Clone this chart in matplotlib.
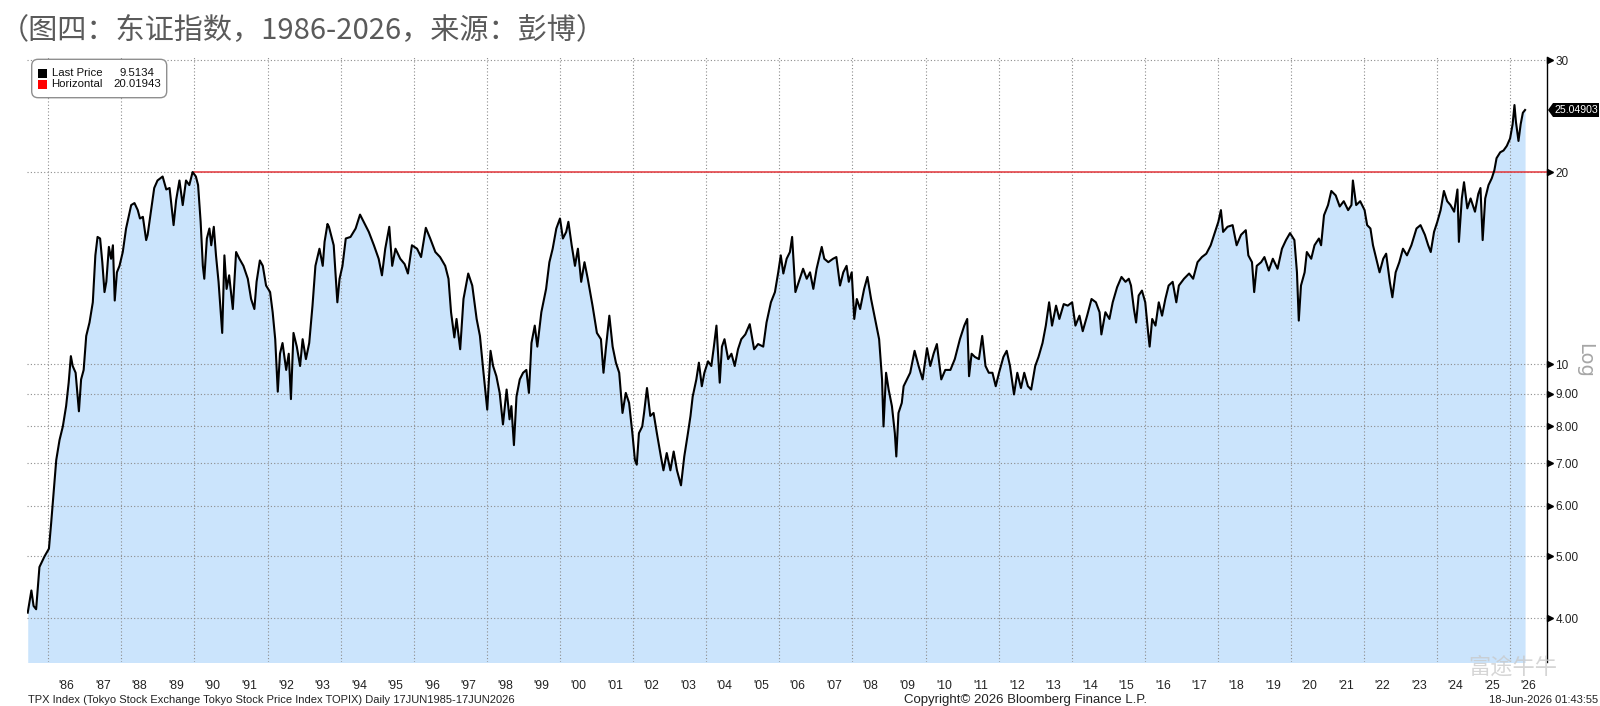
import matplotlib
matplotlib.use("Agg")
import matplotlib.pyplot as plt
import matplotlib.patches as mpatches
import matplotlib.transforms as transforms
from matplotlib.ticker import FixedLocator, FixedFormatter, NullLocator

# decimal years and TOPIX level
dates = [
    1985.44, 1985.54, 1985.60, 1985.67, 1985.76, 1985.90, 1986.02, 1986.08, 1986.13, 1986.22,
    1986.31, 1986.40, 1986.49, 1986.56, 1986.62, 1986.67, 1986.75, 1986.84, 1986.90, 1986.97,
    1987.04, 1987.13, 1987.22, 1987.29, 1987.35, 1987.42, 1987.48, 1987.54, 1987.59, 1987.66,
    1987.72, 1987.77, 1987.82, 1987.88, 1987.95, 1988.04, 1988.13, 1988.27, 1988.36, 1988.45,
    1988.51, 1988.59, 1988.68, 1988.72, 1988.81, 1988.90, 1988.99, 1989.13, 1989.23, 1989.32,
    1989.43, 1989.50, 1989.59, 1989.68, 1989.77, 1989.86, 1989.95, 1990.04, 1990.10, 1990.17,
    1990.23, 1990.27, 1990.34, 1990.41, 1990.46, 1990.53, 1990.59, 1990.66, 1990.76, 1990.82,
    1990.88, 1990.95, 1991.05, 1991.14, 1991.23, 1991.34, 1991.46, 1991.55, 1991.64, 1991.70,
    1991.79, 1991.87, 1991.96, 1992.07, 1992.14, 1992.21, 1992.28, 1992.34, 1992.41, 1992.51,
    1992.58, 1992.64, 1992.71, 1992.80, 1992.89, 1992.96, 1993.05, 1993.14, 1993.23, 1993.31,
    1993.42, 1993.51, 1993.56, 1993.64,
    1993.68, 1993.81, 1993.91, 1993.97, 1994.05, 1994.14, 1994.27, 1994.41, 1994.53, 1994.63,
    1994.77, 1994.91, 1995.04, 1995.13, 1995.22, 1995.33, 1995.41, 1995.50, 1995.63, 1995.75,
    1995.84, 1995.95, 1996.09, 1996.20, 1996.33, 1996.45, 1996.59, 1996.72, 1996.86, 1996.95,
    1997.02, 1997.11, 1997.17, 1997.27, 1997.36, 1997.49, 1997.60, 1997.72, 1997.81, 1997.90,
    1998.01, 1998.10, 1998.17, 1998.26, 1998.35, 1998.44, 1998.54, 1998.62, 1998.67, 1998.74,
    1998.81, 1998.90, 1998.99, 1999.08, 1999.15, 1999.22, 1999.31, 1999.38, 1999.49, 1999.62,
    1999.71, 1999.80, 1999.90, 2000.00, 2000.08, 2000.17, 2000.23, 2000.32, 2000.41, 2000.49,
    2000.58, 2000.67, 2000.76, 2000.89, 2001.01, 2001.12, 2001.19, 2001.26, 2001.35, 2001.44,
    2001.53, 2001.62, 2001.71, 2001.80, 2001.89, 2001.98, 2002.05, 2002.10, 2002.16, 2002.25,
    2002.30,
    2002.38, 2002.47, 2002.56, 2002.65, 2002.76, 2002.83, 2002.92, 2003.02, 2003.11, 2003.20,
    2003.31, 2003.40, 2003.50, 2003.57, 2003.63, 2003.73, 2003.80, 2003.88, 2003.95, 2004.05,
    2004.14, 2004.21, 2004.28, 2004.37, 2004.43, 2004.50, 2004.60, 2004.69, 2004.78, 2004.87,
    2004.96, 2005.07, 2005.19, 2005.31, 2005.42, 2005.56, 2005.65, 2005.77, 2005.88, 2005.97,
    2006.04, 2006.11, 2006.20, 2006.29, 2006.35, 2006.44, 2006.56, 2006.65, 2006.75, 2006.84,
    2006.93, 2007.02, 2007.16, 2007.23, 2007.34, 2007.47, 2007.56, 2007.66, 2007.75, 2007.84,
    2007.90, 2007.98, 2008.05, 2008.12, 2008.21, 2008.32, 2008.41, 2008.51, 2008.62, 2008.73,
    2008.81, 2008.85, 2008.92, 2008.99, 2009.08, 2009.16, 2009.20, 2009.26, 2009.35, 2009.40,
    2009.49, 2009.58, 2009.70, 2009.81, 2009.92, 2010.04, 2010.13, 2010.22, 2010.31, 2010.43,
    2010.54, 2010.68, 2010.80,
    2010.94, 2011.06, 2011.14, 2011.19, 2011.26, 2011.35, 2011.46, 2011.55, 2011.64, 2011.73,
    2011.83, 2011.92, 2012.01, 2012.13, 2012.22, 2012.31, 2012.42, 2012.51, 2012.61, 2012.70,
    2012.80, 2012.89, 2013.00, 2013.09, 2013.20, 2013.29, 2013.38, 2013.46, 2013.57, 2013.66,
    2013.78, 2013.89, 2014.01, 2014.10, 2014.21, 2014.30, 2014.42, 2014.54, 2014.66, 2014.76,
    2014.81, 2014.92, 2015.03, 2015.12, 2015.24, 2015.36, 2015.47, 2015.56, 2015.62, 2015.70,
    2015.76, 2015.83, 2015.92, 2016.01, 2016.09, 2016.13, 2016.20, 2016.29, 2016.38, 2016.47,
    2016.56, 2016.65, 2016.76, 2016.86, 2016.93, 2017.07, 2017.21, 2017.32, 2017.44, 2017.56,
    2017.68, 2017.80, 2017.92, 2018.01, 2018.08, 2018.14, 2018.26, 2018.40, 2018.51, 2018.63,
    2018.76, 2018.83, 2018.93, 2018.99, 2019.06, 2019.18, 2019.27,
    2019.39, 2019.50, 2019.63, 2019.75, 2019.86, 2019.97, 2020.09, 2020.16, 2020.21, 2020.27,
    2020.37, 2020.43, 2020.55, 2020.64, 2020.76, 2020.82, 2020.90, 2021.01, 2021.10, 2021.22,
    2021.33, 2021.44, 2021.56, 2021.65, 2021.69, 2021.78, 2021.89, 2022.01, 2022.08, 2022.17,
    2022.24, 2022.33, 2022.42, 2022.52, 2022.60, 2022.70, 2022.77, 2022.86, 2022.96, 2023.06,
    2023.17, 2023.29, 2023.43, 2023.54, 2023.66, 2023.75, 2023.82, 2023.91, 2024.00, 2024.09,
    2024.18, 2024.27, 2024.36, 2024.46, 2024.55, 2024.59, 2024.67, 2024.73, 2024.82, 2024.91,
    2025.03, 2025.12, 2025.18, 2025.24, 2025.31, 2025.40, 2025.49, 2025.56, 2025.62, 2025.72,
    2025.81, 2025.90, 2025.99, 2026.06, 2026.11, 2026.15, 2026.22, 2026.28, 2026.34, 2026.40,
]
tpx = [
    4.08, 4.42, 4.18, 4.13, 4.81, 5.00, 5.14, 5.63, 6.12, 7.08,
    7.61, 7.99, 8.60, 9.36, 10.30, 9.94, 9.70, 8.44, 9.47, 9.80,
    11.08, 11.63, 12.51, 14.82, 15.84, 15.75, 14.46, 12.98, 13.47, 15.28,
    14.64, 15.37, 12.59, 13.94, 14.27, 15.00, 16.33, 17.77, 17.90, 17.45,
    16.93, 17.03, 15.66, 15.96, 17.35, 18.90, 19.42, 19.70, 18.80, 18.90,
    16.53, 18.10, 19.42, 17.77, 19.42, 19.10, 20.02, 19.70, 19.10, 16.73,
    14.27, 13.62, 15.75, 16.33, 15.37, 16.43, 14.82, 13.47, 11.20, 14.82,
    13.13, 13.79, 12.21, 15.00, 14.64, 14.27, 13.62, 12.66, 12.21, 13.47,
    14.55, 14.27, 13.29, 12.98, 12.07, 10.95, 9.06, 10.39, 10.80, 9.80,
    10.39, 8.82, 11.20, 10.66, 9.94, 10.95, 10.19, 10.80, 12.36, 14.27,
    15.18, 14.27, 15.56, 16.60,
    16.43, 15.37, 12.51, 13.62, 14.27, 15.75, 15.84, 16.33, 17.17, 16.73,
    16.13, 15.37, 14.64, 13.79, 15.18, 16.43, 14.27, 15.18, 14.64, 14.36,
    13.88, 15.37, 15.18, 14.73, 16.37, 15.75, 15.00, 14.73, 14.27, 13.62,
    12.07, 11.02, 11.78, 10.56, 12.66, 13.88, 13.29, 11.78, 11.08, 9.80,
    8.49, 10.50, 9.94, 9.58, 9.02, 8.05, 9.13, 8.20, 8.60, 7.47,
    8.90, 9.47, 9.70, 9.80, 9.02, 10.80, 11.50, 10.66, 12.07, 13.13,
    14.46, 15.18, 16.33, 16.93, 15.75, 16.13, 16.73, 15.37, 14.27, 15.18,
    13.47, 14.46, 13.62, 12.36, 11.20, 10.95, 9.70, 10.66, 11.92, 10.66,
    10.06, 9.70, 8.39, 9.02, 8.70, 7.80, 7.08, 6.96, 7.80, 7.99,
    8.39,
    9.18, 8.30, 8.39, 7.80, 7.17, 6.82, 7.26, 6.82, 7.30, 6.82,
    6.46, 7.17, 7.80, 8.30, 8.90, 9.47, 10.06, 9.24, 9.70, 10.11,
    9.94, 10.66, 11.50, 9.36, 10.66, 10.95, 10.19, 10.39, 9.94, 10.56,
    10.95, 11.14, 11.56, 10.56, 10.76, 10.66, 11.63, 12.51, 12.98, 13.94,
    14.82, 13.88, 14.64, 15.00, 15.84, 12.98, 13.62, 14.12, 13.62, 13.94,
    13.13, 14.12, 15.28, 14.64, 14.46, 14.64, 14.73, 13.29, 13.94, 14.27,
    13.47, 13.94, 11.78, 12.66, 12.21, 13.13, 13.71, 12.66, 11.78, 10.95,
    9.47, 7.99, 9.70, 9.13, 8.60, 7.80, 7.17, 8.39, 8.70, 9.24,
    9.47, 9.70, 10.50, 9.94, 9.47, 10.60, 9.94, 10.39, 10.76, 9.47,
    9.80, 9.80, 10.19,
    10.95, 11.50, 11.78, 9.58, 10.39, 10.27, 10.19, 11.08, 9.94, 9.70,
    9.70, 9.24, 9.70, 10.27, 10.50, 9.94, 8.97, 9.70, 9.18, 9.70,
    9.24, 9.13, 9.94, 10.27, 10.80, 11.50, 12.51, 11.50, 12.36, 11.78,
    12.43, 12.36, 12.51, 11.50, 11.92, 11.27, 11.92, 12.66, 12.51, 12.07,
    11.14, 12.07, 11.78, 12.51, 13.21, 13.71, 13.47, 13.62, 13.29, 12.21,
    11.63, 12.82, 13.05, 12.51, 11.20, 10.66, 11.78, 11.50, 12.51, 11.92,
    12.66, 13.29, 13.47, 12.51, 13.29, 13.62, 13.88, 13.62, 14.46, 14.73,
    14.91, 15.37, 16.13, 16.73, 17.45, 16.13, 16.43, 16.53, 15.37, 15.96,
    16.23, 14.82, 14.46, 12.98, 14.27, 14.46, 14.73,
    14.03, 14.64, 14.12, 15.18, 15.66, 16.06, 15.66, 13.94, 11.71, 13.29,
    13.94, 15.00, 14.64, 15.37, 15.75, 15.37, 17.13, 17.77, 18.70, 18.40,
    17.68, 18.02, 17.45, 17.77, 19.42, 17.77, 18.02, 17.45, 16.53, 16.33,
    15.37, 14.64, 13.94, 14.64, 14.91, 13.47, 12.74, 13.94, 14.46, 15.18,
    14.82, 15.37, 16.33, 16.53, 15.96, 15.37, 15.00, 16.13, 16.73, 17.45,
    18.70, 18.02, 17.77, 17.35, 18.80, 15.56, 18.20, 19.30, 17.56, 18.20,
    17.35, 18.50, 18.90, 15.66, 18.20, 19.10, 19.58, 20.15, 21.05, 21.50,
    21.64, 22.00, 22.60, 23.80, 25.50, 24.00, 22.40, 23.80, 24.80, 25.05,
]

horizontal_level = 20.01943
horizontal_start = 1989.95
last_tag = 25.04903
legend_rows = [("Last Price", "9.5134", "black"), ("Horizontal", "20.01943", "#ff0000")]

y_ticks = [4, 5, 6, 7, 8, 9, 10, 20, 30]
y_labels = ["4.00", "5.00", "6.00", "7.00", "8.00", "9.00", "10", "20", "30"]
years = list(range(1986, 2027))
year_labels = ["'%02d" % (y % 100) for y in years]
grid_years = list(range(1986, 2027, 2))

title = "（图四：东证指数，1986-2026，来源：彭博）"
footer_left = "TPX Index (Tokyo Stock Exchange Tokyo Stock Price Index TOPIX) Daily 17JUN1985-17JUN2026"
footer_mid = "Copyright© 2026 Bloomberg Finance L.P."
footer_right = "18-Jun-2026 01:43:55"

bbg = "Liberation Sans"
cjk = ["Noto Sans CJK SC", "DejaVu Sans"]

W, H = 1600, 706
fig = plt.figure(figsize=(W / 100, H / 100), dpi=100)
fig.patch.set_facecolor("white")

def fx(x):
    return x / W

def fy(y):
    return 1 - y / H

ax = fig.add_axes([fx(27), fy(662), fx(1547) - fx(27), fy(57) - fy(662)])
ax.set_yscale("log")
ax.set_xlim(1985.42, 2027.0)
ax.set_ylim(3.414, 30.33)

ax.fill_between(dates, tpx, 3.0, color="#cbe4fc", lw=0, zorder=1)
ax.plot(dates, tpx, color="black", lw=1.5, zorder=4)
ax.hlines(horizontal_level, horizontal_start, 2027.0, color="#e2353a", lw=1.1, zorder=3)

# axes / ticks
for s in ["top", "left", "bottom"]:
    ax.spines[s].set_visible(False)
ax.spines["right"].set_color("black")
ax.spines["right"].set_linewidth(1.0)

ax.yaxis.tick_right()
ax.yaxis.set_major_locator(FixedLocator(y_ticks))
ax.yaxis.set_major_formatter(FixedFormatter(y_labels))
ax.yaxis.set_minor_locator(NullLocator())
ax.tick_params(axis="y", which="both", length=0, pad=6, labelsize=8.5, labelcolor="#222222")

ax.xaxis.set_major_locator(FixedLocator(grid_years))
ax.xaxis.set_major_formatter(FixedFormatter([""] * len(grid_years)))
ax.xaxis.set_minor_locator(FixedLocator([y + 0.5 for y in years]))
ax.xaxis.set_minor_formatter(FixedFormatter(year_labels))
ax.tick_params(axis="x", which="both", length=0, pad=13, labelsize=8.8, labelcolor="#222222")
for lab in ax.get_xticklabels(minor=True) + ax.get_yticklabels():
    lab.set_fontfamily(bbg)

ax.grid(True, which="major", axis="both", color="#8c8c8c", lw=0.8, ls=(0, (1, 2)))

# little arrow ticks on the right axis
trans = transforms.blended_transform_factory(ax.transAxes, ax.transData)
ax.plot([1.0017] * len(y_ticks), y_ticks, marker=">", ls="none", ms=4, color="black",
        transform=trans, clip_on=False, zorder=5)

# last value tag (black flag with a notch towards the axis)
tag = mpatches.Polygon([(fx(1548), fy(110)), (fx(1553), fy(103)), (fx(1599), fy(103)),
                        (fx(1599), fy(117)), (fx(1553), fy(117))],
                       closed=True, transform=fig.transFigure, fc="black", ec="none", zorder=10)
fig.patches.append(tag)
fig.text(fx(1576), fy(110), "%.5f" % last_tag, ha="center", va="center",
         color="white", fontsize=7.6, family=bbg, zorder=11)

# legend box
box = mpatches.FancyBboxPatch((fx(31.7), fy(97.7)), fx(166.7) - fx(31.7), fy(59.3) - fy(97.7),
                              boxstyle="round,pad=0,rounding_size=0.004",
                              mutation_aspect=W / H,
                              transform=fig.transFigure, fc="white", ec="#8f8f8f", lw=1.0, zorder=10)
fig.patches.append(box)
for i, (name, val, col) in enumerate(legend_rows):
    yc = 73.5 + i * 10.8
    sq = mpatches.Rectangle((fx(38.3), fy(yc + 4.6)), fx(8.4), 9.2 / H,
                            transform=fig.transFigure, fc=col, ec="none", zorder=11)
    fig.patches.append(sq)
    fig.text(fx(51.5), fy(yc), name, fontsize=8.2, family=bbg, va="center", ha="left",
             color="#111111", zorder=12)
    fig.text(fx(137), fy(yc), val, fontsize=8.2, family=bbg, va="center", ha="center",
             color="#111111", zorder=12)

fig.text(fx(1585), fy(360), "Log", rotation=270, fontsize=14, color="#a6a6a6",
         ha="center", va="center")

fig.text(fx(0), fy(31), title, fontsize=21, color="#5a5a5a", family=cjk, ha="left", va="center")

fig.text(fx(28), fy(700), footer_left, fontsize=8, family=bbg, color="#222222", ha="left", va="center")
fig.text(fx(1025), fy(700), footer_mid, fontsize=9.5, family=bbg, color="#222222", ha="center", va="center")
fig.text(fx(1598), fy(700), footer_right, fontsize=8, family=bbg, color="#222222", ha="right", va="center")

# faint watermark
fig.text(fx(1513), fy(667), "富途牛牛", fontsize=16, family=cjk, color="#c8c8c8", alpha=0.75,
         ha="center", va="center")

fig.savefig("out.png", dpi=100)
